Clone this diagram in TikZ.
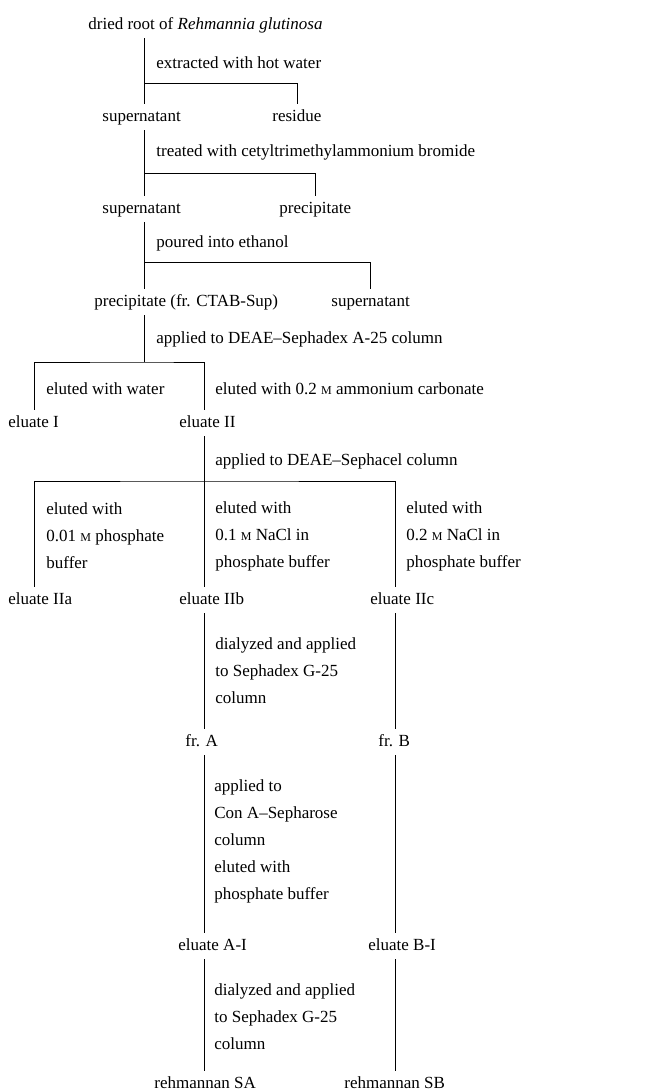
\documentclass[tikz,border=0pt]{standalone}
\usepackage{fontspec}
\setmainfont{Liberation Serif}
\usepackage{tikz}
\usetikzlibrary{calc,positioning}
\tikzstyle{fraction}=[anchor=west, inner xsep=0pt, inner ysep=5pt,
                      text height=12pt, text depth=4pt, yshift=-2pt,
                      font=\fontsize{17}{27}\selectfont]
\tikzstyle{treat}   =[anchor=west, inner sep=0pt, align=left, yshift=-2pt,
                      font=\fontsize{17}{27}\selectfont]
\tikzstyle{edge}    =[line width=0.8pt]
\newcommand{\smM}{{\fontsize{12}{12}\selectfont M}}

\begin{document}
\begin{tikzpicture}[x=1pt, y=-1pt, edge]
    \useasboundingbox (0,0) rectangle (653,1090);
    % trunks and branch points
    \coordinate (t0) at (34,0);
    \coordinate (t1) at (144,0);
    \coordinate (t2) at (204,0);
    \coordinate (t3) at (395,0);
    \coordinate (s1) at (144,83);
    \coordinate (s2) at (144,173);
    \coordinate (s3) at (144,262);
    \coordinate (s4) at (144,362);
    \coordinate (s5) at (204,481);

    % fractions
    \node[fraction] (root)  at (88,23)   {dried root of \textit{Rehmannia glutinosa}};
    \node[fraction] (sup1)  at (102,115) {supernatant};
    \node[fraction] (res)   at (272,115) {residue};
    \node[fraction] (sup2)  at (102,207) {supernatant};
    \node[fraction] (prec1) at (279,207) {precipitate};
    \node[fraction] (prec2) at (94,300)  {precipitate (fr. CTAB-Sup)};
    \node[fraction] (sup3)  at (331,300) {supernatant};
    \node[fraction] (elI)   at (8,421)   {eluate I};
    \node[fraction] (elII)  at (179,421) {eluate II};
    \node[fraction] (elIIa) at (8,598)   {eluate IIa};
    \node[fraction] (elIIb) at (179,598) {eluate IIb};
    \node[fraction] (elIIc) at (370,598) {eluate IIc};
    \node[fraction] (frA)   at (185,740) {fr. A};
    \node[fraction] (frB)   at (378,740) {fr. B};
    \node[fraction] (elAI)  at (178,944) {eluate A-I};
    \node[fraction] (elBI)  at (368,944) {eluate B-I};
    \node[fraction] (rehSA) at (154,1082) {rehmannan SA};
    \node[fraction] (rehSB) at (344,1082) {rehmannan SB};

    % treatments
    \node[treat] (hot)   at (156,61)  {extracted with hot water};
    \node[treat] (ctab)  at (156,150) {treated with cetyltrimethylammonium bromide};
    \node[treat] (etoh)  at (156,241) {poured into ethanol};
    \node[treat] (deae)  at (156,337) {applied to DEAE--Sephadex A-25 column};
    \node[treat] (water) at (46,387)  {eluted with water};
    \node[treat] (amm)   at (215,387) {eluted with 0.2 \smM{} ammonium carbonate};
    \node[treat] (cel)   at (215,459) {applied to DEAE--Sephacel column};
    \node[treat] (phA)   at (46,534)  {eluted with\\0.01 \smM{} phosphate\\buffer};
    \node[treat] (phB)   at (215,534) {eluted with\\0.1 \smM{} NaCl in\\phosphate buffer};
    \node[treat] (phC)   at (406,534) {eluted with\\0.2 \smM{} NaCl in\\phosphate buffer};
    \node[treat] (gA)    at (215,669) {dialyzed and applied\\to Sephadex G-25\\column};
    \node[treat] (con)   at (214,811) {applied to\\Con A--Sepharose\\column};
    \node[treat] (phos)  at (214,880) {eluted with\\phosphate buffer};
    \node[treat] (gB)    at (214,1015) {dialyzed and applied\\to Sephadex G-25\\column};

    % connectors
    \draw (root.south -| t1) -- (sup1.north -| t1);
    \draw (s1) -| (res.north);
    \draw (sup1.south -| t1) -- (sup2.north -| t1);
    \draw (s2) -| (prec1.north);
    \draw (sup2.south -| t1) -- (prec2.north -| t1);
    \draw (s3) -| (sup3.north);
    \draw (prec2.south -| t1) -- (s4);
    \draw (elI.north -| t0) |- (s4) -| (elII.north -| t2);
    \draw (elII.south -| t2) -- (elIIb.north -| t2);
    \draw (elIIa.north -| t0) |- (s5) -| (elIIc.north -| t3);
    \draw (elIIb.south -| t2) -- (frA.north -| t2);
    \draw (elIIc.south -| t3) -- (frB.north -| t3);
    \draw (frA.south -| t2) -- (elAI.north -| t2);
    \draw (frB.south -| t3) -- (elBI.north -| t3);
    \draw (elAI.south -| t2) -- (rehSA.north -| t2);
    \draw (elBI.south -| t3) -- (rehSB.north -| t3);
\end{tikzpicture}
\end{document}
